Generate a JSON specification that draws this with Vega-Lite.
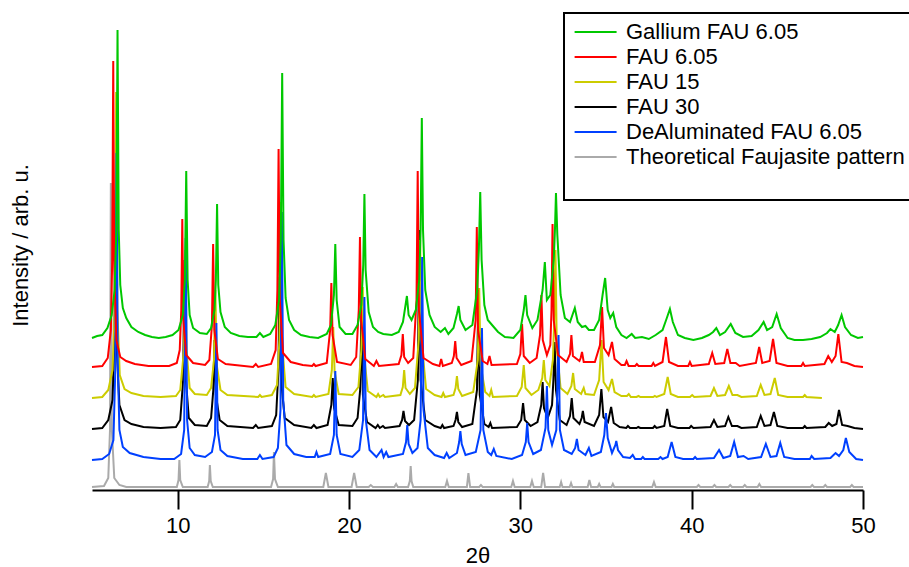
{
"$schema":"https://vega.github.io/schema/vega-lite/v6.json",
"width":771,"height":490,
"autosize":{"type":"none"},
"padding":{"left":92,"top":0,"right":46,"bottom":77},
"background":"white",
"config":{"view":{"stroke":null},"font":"Liberation Sans","legend":{"strokeWidth":2}},
"data":{"values":[
{"s":"a","x":5,"y":152},{"s":"a","x":5.3,"y":154},{"s":"a","x":5.6,"y":155},{"s":"a","x":5.9,"y":162},{"s":"a","x":6.15,"y":175},{"s":"a","x":6.32,"y":200},{"s":"a","x":6.42,"y":260},{"s":"a","x":6.49,"y":460},{"s":"a","x":6.56,"y":260},{"s":"a","x":6.65,"y":205},{"s":"a","x":6.8,"y":182},{"s":"a","x":7.0,"y":172},{"s":"a","x":7.3,"y":163},{"s":"a","x":7.7,"y":158},{"s":"a","x":8.1,"y":155},{"s":"a","x":8.5,"y":153},{"s":"a","x":8.9,"y":152},{"s":"a","x":9.3,"y":153},{"s":"a","x":9.7,"y":155},{"s":"a","x":10.05,"y":160},{"s":"a","x":10.3,"y":175},{"s":"a","x":10.42,"y":210},{"s":"a","x":10.5,"y":319},{"s":"a","x":10.58,"y":210},{"s":"a","x":10.7,"y":175},{"s":"a","x":10.9,"y":162},{"s":"a","x":11.3,"y":157},{"s":"a","x":11.7,"y":156},{"s":"a","x":11.95,"y":162},{"s":"a","x":12.15,"y":180},{"s":"a","x":12.23,"y":210},{"s":"a","x":12.3,"y":286},{"s":"a","x":12.37,"y":205},{"s":"a","x":12.5,"y":178},{"s":"a","x":12.75,"y":163},{"s":"a","x":13.1,"y":157},{"s":"a","x":13.6,"y":154},{"s":"a","x":14.1,"y":153},{"s":"a","x":14.6,"y":153},{"s":"a","x":14.8,"y":157},{"s":"a","x":15.0,"y":153},{"s":"a","x":15.4,"y":156},{"s":"a","x":15.7,"y":165},{"s":"a","x":15.92,"y":190},{"s":"a","x":16.02,"y":250},{"s":"a","x":16.1,"y":417},{"s":"a","x":16.18,"y":250},{"s":"a","x":16.3,"y":192},{"s":"a","x":16.5,"y":170},{"s":"a","x":16.8,"y":160},{"s":"a","x":17.2,"y":155},{"s":"a","x":17.7,"y":153},{"s":"a","x":18.2,"y":152},{"s":"a","x":18.7,"y":156},{"s":"a","x":18.95,"y":165},{"s":"a","x":19.12,"y":195},{"s":"a","x":19.2,"y":246},{"s":"a","x":19.28,"y":190},{"s":"a","x":19.45,"y":163},{"s":"a","x":19.8,"y":156},{"s":"a","x":20.2,"y":156},{"s":"a","x":20.5,"y":165},{"s":"a","x":20.72,"y":185},{"s":"a","x":20.83,"y":225},{"s":"a","x":20.9,"y":296},{"s":"a","x":20.97,"y":220},{"s":"a","x":21.15,"y":178},{"s":"a","x":21.4,"y":163},{"s":"a","x":21.7,"y":158},{"s":"a","x":22.0,"y":156},{"s":"a","x":22.5,"y":155},{"s":"a","x":22.9,"y":158},{"s":"a","x":23.15,"y":168},{"s":"a","x":23.3,"y":185},{"s":"a","x":23.38,"y":194},{"s":"a","x":23.48,"y":175},{"s":"a","x":23.65,"y":170},{"s":"a","x":23.9,"y":180},{"s":"a","x":24.1,"y":210},{"s":"a","x":24.18,"y":260},{"s":"a","x":24.25,"y":372},{"s":"a","x":24.32,"y":260},{"s":"a","x":24.45,"y":200},{"s":"a","x":24.7,"y":175},{"s":"a","x":25.0,"y":163},{"s":"a","x":25.35,"y":158},{"s":"a","x":25.6,"y":162},{"s":"a","x":25.8,"y":156},{"s":"a","x":26.1,"y":162},{"s":"a","x":26.3,"y":176},{"s":"a","x":26.4,"y":184},{"s":"a","x":26.5,"y":170},{"s":"a","x":26.8,"y":160},{"s":"a","x":27.2,"y":165},{"s":"a","x":27.48,"y":200},{"s":"a","x":27.58,"y":240},{"s":"a","x":27.66,"y":298},{"s":"a","x":27.74,"y":230},{"s":"a","x":27.9,"y":185},{"s":"a","x":28.1,"y":170},{"s":"a","x":28.4,"y":164},{"s":"a","x":28.7,"y":158},{"s":"a","x":29.1,"y":153},{"s":"a","x":29.6,"y":152},{"s":"a","x":30.0,"y":160},{"s":"a","x":30.2,"y":180},{"s":"a","x":30.3,"y":195},{"s":"a","x":30.4,"y":175},{"s":"a","x":30.7,"y":162},{"s":"a","x":31.0,"y":170},{"s":"a","x":31.3,"y":200},{"s":"a","x":31.43,"y":228},{"s":"a","x":31.55,"y":190},{"s":"a","x":31.75,"y":195},{"s":"a","x":31.95,"y":230},{"s":"a","x":32.02,"y":260},{"s":"a","x":32.08,"y":297},{"s":"a","x":32.16,"y":255},{"s":"a","x":32.35,"y":195},{"s":"a","x":32.6,"y":172},{"s":"a","x":32.9,"y":168},{"s":"a","x":33.18,"y":182},{"s":"a","x":33.35,"y":168},{"s":"a","x":33.6,"y":163},{"s":"a","x":33.8,"y":164},{"s":"a","x":34.0,"y":160},{"s":"a","x":34.3,"y":160},{"s":"a","x":34.6,"y":170},{"s":"a","x":34.8,"y":195},{"s":"a","x":34.95,"y":212},{"s":"a","x":35.1,"y":180},{"s":"a","x":35.25,"y":172},{"s":"a","x":35.42,"y":177},{"s":"a","x":35.6,"y":163},{"s":"a","x":35.9,"y":155},{"s":"a","x":36.2,"y":152},{"s":"a","x":36.5,"y":156},{"s":"a","x":36.7,"y":152},{"s":"a","x":37.1,"y":153},{"s":"a","x":37.5,"y":151},{"s":"a","x":37.9,"y":155},{"s":"a","x":38.3,"y":160},{"s":"a","x":38.55,"y":172},{"s":"a","x":38.73,"y":181},{"s":"a","x":38.9,"y":168},{"s":"a","x":39.2,"y":155},{"s":"a","x":39.6,"y":152},{"s":"a","x":40.1,"y":150},{"s":"a","x":40.6,"y":152},{"s":"a","x":41.0,"y":155},{"s":"a","x":41.25,"y":158},{"s":"a","x":41.44,"y":162},{"s":"a","x":41.65,"y":155},{"s":"a","x":41.95,"y":158},{"s":"a","x":42.28,"y":166},{"s":"a","x":42.55,"y":157},{"s":"a","x":43.0,"y":153},{"s":"a","x":43.5,"y":154},{"s":"a","x":43.9,"y":160},{"s":"a","x":44.2,"y":168},{"s":"a","x":44.4,"y":160},{"s":"a","x":44.7,"y":163},{"s":"a","x":44.96,"y":176},{"s":"a","x":45.2,"y":162},{"s":"a","x":45.6,"y":152},{"s":"a","x":46.0,"y":150},{"s":"a","x":46.5,"y":150},{"s":"a","x":47.0,"y":151},{"s":"a","x":47.5,"y":153},{"s":"a","x":47.9,"y":157},{"s":"a","x":48.1,"y":161},{"s":"a","x":48.35,"y":158},{"s":"a","x":48.55,"y":165},{"s":"a","x":48.75,"y":175},{"s":"a","x":48.95,"y":163},{"s":"a","x":49.3,"y":155},{"s":"a","x":49.7,"y":152},{"s":"a","x":50,"y":153},
{"s":"b","x":5,"y":123},{"s":"b","x":5.6,"y":124},{"s":"b","x":5.92,"y":132},{"s":"b","x":6.1,"y":160},{"s":"b","x":6.18,"y":230},{"s":"b","x":6.24,"y":429},{"s":"b","x":6.3,"y":220},{"s":"b","x":6.42,"y":150},{"s":"b","x":6.65,"y":133},{"s":"b","x":7.0,"y":129},{"s":"b","x":7.5,"y":126},{"s":"b","x":8.3,"y":124},{"s":"b","x":9.5,"y":124},{"s":"b","x":9.95,"y":127},{"s":"b","x":10.12,"y":140},{"s":"b","x":10.21,"y":180},{"s":"b","x":10.27,"y":271},{"s":"b","x":10.33,"y":170},{"s":"b","x":10.5,"y":135},{"s":"b","x":10.9,"y":127},{"s":"b","x":11.6,"y":125},{"s":"b","x":11.85,"y":130},{"s":"b","x":12.0,"y":165},{"s":"b","x":12.07,"y":246},{"s":"b","x":12.14,"y":160},{"s":"b","x":12.35,"y":131},{"s":"b","x":12.8,"y":126},{"s":"b","x":14.4,"y":123},{"s":"b","x":14.56,"y":126},{"s":"b","x":14.7,"y":123},{"s":"b","x":15.45,"y":126},{"s":"b","x":15.72,"y":140},{"s":"b","x":15.82,"y":200},{"s":"b","x":15.89,"y":341},{"s":"b","x":15.96,"y":190},{"s":"b","x":16.15,"y":137},{"s":"b","x":16.6,"y":128},{"s":"b","x":17.3,"y":125},{"s":"b","x":17.85,"y":124},{"s":"b","x":17.95,"y":126},{"s":"b","x":18.05,"y":124},{"s":"b","x":18.7,"y":127},{"s":"b","x":18.9,"y":160},{"s":"b","x":18.97,"y":207},{"s":"b","x":19.04,"y":155},{"s":"b","x":19.3,"y":128},{"s":"b","x":20.1,"y":125},{"s":"b","x":20.42,"y":133},{"s":"b","x":20.57,"y":180},{"s":"b","x":20.64,"y":253},{"s":"b","x":20.71,"y":170},{"s":"b","x":20.95,"y":131},{"s":"b","x":21.45,"y":124},{"s":"b","x":21.6,"y":129},{"s":"b","x":21.75,"y":124},{"s":"b","x":22.9,"y":126},{"s":"b","x":23.06,"y":135},{"s":"b","x":23.14,"y":156},{"s":"b","x":23.22,"y":133},{"s":"b","x":23.45,"y":127},{"s":"b","x":23.75,"y":132},{"s":"b","x":23.94,"y":190},{"s":"b","x":24.01,"y":319},{"s":"b","x":24.08,"y":180},{"s":"b","x":24.35,"y":132},{"s":"b","x":24.9,"y":126},{"s":"b","x":25.28,"y":124},{"s":"b","x":25.38,"y":131},{"s":"b","x":25.48,"y":124},{"s":"b","x":26.0,"y":127},{"s":"b","x":26.12,"y":134},{"s":"b","x":26.2,"y":149},{"s":"b","x":26.28,"y":132},{"s":"b","x":26.55,"y":125},{"s":"b","x":27.15,"y":129},{"s":"b","x":27.39,"y":170},{"s":"b","x":27.46,"y":263},{"s":"b","x":27.53,"y":160},{"s":"b","x":27.8,"y":129},{"s":"b","x":28.08,"y":126},{"s":"b","x":28.2,"y":134},{"s":"b","x":28.32,"y":125},{"s":"b","x":29.8,"y":126},{"s":"b","x":30.0,"y":136},{"s":"b","x":30.1,"y":166},{"s":"b","x":30.2,"y":134},{"s":"b","x":30.55,"y":127},{"s":"b","x":30.95,"y":132},{"s":"b","x":31.15,"y":155},{"s":"b","x":31.23,"y":195},{"s":"b","x":31.31,"y":150},{"s":"b","x":31.55,"y":135},{"s":"b","x":31.75,"y":145},{"s":"b","x":31.82,"y":180},{"s":"b","x":31.88,"y":266},{"s":"b","x":31.95,"y":170},{"s":"b","x":32.2,"y":135},{"s":"b","x":32.7,"y":128},{"s":"b","x":32.9,"y":136},{"s":"b","x":32.98,"y":155},{"s":"b","x":33.07,"y":134},{"s":"b","x":33.45,"y":129},{"s":"b","x":33.52,"y":132},{"s":"b","x":33.6,"y":138},{"s":"b","x":33.7,"y":128},{"s":"b","x":34.35,"y":128},{"s":"b","x":34.65,"y":145},{"s":"b","x":34.77,"y":183},{"s":"b","x":34.88,"y":142},{"s":"b","x":35.15,"y":135},{"s":"b","x":35.35,"y":148},{"s":"b","x":35.5,"y":131},{"s":"b","x":35.9,"y":125},{"s":"b","x":36.1,"y":125},{"s":"b","x":36.2,"y":129},{"s":"b","x":36.32,"y":124},{"s":"b","x":36.7,"y":124},{"s":"b","x":36.8,"y":126},{"s":"b","x":36.9,"y":124},{"s":"b","x":37.66,"y":124},{"s":"b","x":37.76,"y":127},{"s":"b","x":37.86,"y":124},{"s":"b","x":38.3,"y":128},{"s":"b","x":38.5,"y":153},{"s":"b","x":38.68,"y":128},{"s":"b","x":39.2,"y":124},{"s":"b","x":39.8,"y":124},{"s":"b","x":39.9,"y":128},{"s":"b","x":40.0,"y":124},{"s":"b","x":41.0,"y":126},{"s":"b","x":41.2,"y":137},{"s":"b","x":41.38,"y":126},{"s":"b","x":41.9,"y":127},{"s":"b","x":42.08,"y":141},{"s":"b","x":42.26,"y":127},{"s":"b","x":42.57,"y":127},{"s":"b","x":42.8,"y":124},{"s":"b","x":43.75,"y":127},{"s":"b","x":43.94,"y":143},{"s":"b","x":44.12,"y":127},{"s":"b","x":44.55,"y":129},{"s":"b","x":44.75,"y":151},{"s":"b","x":44.95,"y":127},{"s":"b","x":45.6,"y":124},{"s":"b","x":46.4,"y":124},{"s":"b","x":46.5,"y":127},{"s":"b","x":46.6,"y":124},{"s":"b","x":47.75,"y":126},{"s":"b","x":47.97,"y":134},{"s":"b","x":48.18,"y":128},{"s":"b","x":48.4,"y":134},{"s":"b","x":48.56,"y":156},{"s":"b","x":48.75,"y":128},{"s":"b","x":49.06,"y":127},{"s":"b","x":49.5,"y":124},{"s":"b","x":50,"y":123},
{"s":"c","x":5,"y":92},{"s":"c","x":5.6,"y":93},{"s":"c","x":5.95,"y":100},{"s":"c","x":6.2,"y":120},{"s":"c","x":6.33,"y":180},{"s":"c","x":6.41,"y":398},{"s":"c","x":6.48,"y":180},{"s":"c","x":6.62,"y":115},{"s":"c","x":6.9,"y":101},{"s":"c","x":7.3,"y":97},{"s":"c","x":8.0,"y":94},{"s":"c","x":9.0,"y":93},{"s":"c","x":9.9,"y":94},{"s":"c","x":10.15,"y":100},{"s":"c","x":10.37,"y":140},{"s":"c","x":10.45,"y":240},{"s":"c","x":10.52,"y":140},{"s":"c","x":10.7,"y":102},{"s":"c","x":11.0,"y":96},{"s":"c","x":11.7,"y":95},{"s":"c","x":11.95,"y":102},{"s":"c","x":12.12,"y":130},{"s":"c","x":12.2,"y":200},{"s":"c","x":12.28,"y":125},{"s":"c","x":12.5,"y":100},{"s":"c","x":12.9,"y":95},{"s":"c","x":14.7,"y":93},{"s":"c","x":14.8,"y":95},{"s":"c","x":14.9,"y":93},{"s":"c","x":15.5,"y":95},{"s":"c","x":15.8,"y":105},{"s":"c","x":15.94,"y":150},{"s":"c","x":16.02,"y":288},{"s":"c","x":16.1,"y":145},{"s":"c","x":16.3,"y":103},{"s":"c","x":16.8,"y":96},{"s":"c","x":17.85,"y":93},{"s":"c","x":17.95,"y":95},{"s":"c","x":18.05,"y":93},{"s":"c","x":18.8,"y":96},{"s":"c","x":19.0,"y":120},{"s":"c","x":19.08,"y":163},{"s":"c","x":19.16,"y":118},{"s":"c","x":19.4,"y":96},{"s":"c","x":20.2,"y":95},{"s":"c","x":20.55,"y":103},{"s":"c","x":20.72,"y":140},{"s":"c","x":20.8,"y":203},{"s":"c","x":20.88,"y":135},{"s":"c","x":21.1,"y":99},{"s":"c","x":21.6,"y":93},{"s":"c","x":21.7,"y":96},{"s":"c","x":21.8,"y":93},{"s":"c","x":22.0,"y":95},{"s":"c","x":22.1,"y":93},{"s":"c","x":23.0,"y":95},{"s":"c","x":23.14,"y":103},{"s":"c","x":23.22,"y":120},{"s":"c","x":23.3,"y":102},{"s":"c","x":23.55,"y":96},{"s":"c","x":23.85,"y":102},{"s":"c","x":24.07,"y":150},{"s":"c","x":24.15,"y":250},{"s":"c","x":24.23,"y":150},{"s":"c","x":24.5,"y":101},{"s":"c","x":25.0,"y":95},{"s":"c","x":25.4,"y":93},{"s":"c","x":25.5,"y":97},{"s":"c","x":25.6,"y":93},{"s":"c","x":26.1,"y":95},{"s":"c","x":26.22,"y":102},{"s":"c","x":26.3,"y":114},{"s":"c","x":26.38,"y":101},{"s":"c","x":26.6,"y":94},{"s":"c","x":27.25,"y":98},{"s":"c","x":27.52,"y":130},{"s":"c","x":27.6,"y":202},{"s":"c","x":27.68,"y":125},{"s":"c","x":27.95,"y":98},{"s":"c","x":28.2,"y":94},{"s":"c","x":28.3,"y":100},{"s":"c","x":28.4,"y":93},{"s":"c","x":29.8,"y":94},{"s":"c","x":30.08,"y":103},{"s":"c","x":30.2,"y":125},{"s":"c","x":30.3,"y":102},{"s":"c","x":30.65,"y":95},{"s":"c","x":31.05,"y":100},{"s":"c","x":31.28,"y":112},{"s":"c","x":31.37,"y":130},{"s":"c","x":31.46,"y":110},{"s":"c","x":31.7,"y":104},{"s":"c","x":31.9,"y":130},{"s":"c","x":31.98,"y":170},{"s":"c","x":32.05,"y":240},{"s":"c","x":32.13,"y":140},{"s":"c","x":32.35,"y":102},{"s":"c","x":32.75,"y":96},{"s":"c","x":32.98,"y":104},{"s":"c","x":33.08,"y":117},{"s":"c","x":33.18,"y":101},{"s":"c","x":33.55,"y":96},{"s":"c","x":33.62,"y":99},{"s":"c","x":33.7,"y":102},{"s":"c","x":33.8,"y":96},{"s":"c","x":34.3,"y":95},{"s":"c","x":34.6,"y":110},{"s":"c","x":34.74,"y":150},{"s":"c","x":34.86,"y":108},{"s":"c","x":35.15,"y":100},{"s":"c","x":35.35,"y":111},{"s":"c","x":35.5,"y":98},{"s":"c","x":35.9,"y":94},{"s":"c","x":36.22,"y":94},{"s":"c","x":36.33,"y":96},{"s":"c","x":36.45,"y":93},{"s":"c","x":36.78,"y":93},{"s":"c","x":36.9,"y":94},{"s":"c","x":37.0,"y":93},{"s":"c","x":37.75,"y":93},{"s":"c","x":37.85,"y":94},{"s":"c","x":37.95,"y":93},{"s":"c","x":38.4,"y":96},{"s":"c","x":38.6,"y":113},{"s":"c","x":38.78,"y":96},{"s":"c","x":39.2,"y":93},{"s":"c","x":39.9,"y":93},{"s":"c","x":40.03,"y":95},{"s":"c","x":40.15,"y":93},{"s":"c","x":41.1,"y":94},{"s":"c","x":41.3,"y":102},{"s":"c","x":41.5,"y":94},{"s":"c","x":41.95,"y":95},{"s":"c","x":42.17,"y":104},{"s":"c","x":42.38,"y":95},{"s":"c","x":42.67,"y":95},{"s":"c","x":42.9,"y":93},{"s":"c","x":43.8,"y":94},{"s":"c","x":44.03,"y":105},{"s":"c","x":44.25,"y":95},{"s":"c","x":44.6,"y":96},{"s":"c","x":44.85,"y":112},{"s":"c","x":45.05,"y":95},{"s":"c","x":45.6,"y":93},{"s":"c","x":46.5,"y":93},{"s":"c","x":46.6,"y":95},{"s":"c","x":46.7,"y":93},{"s":"c","x":47.6,"y":92},
{"s":"d","x":5,"y":61},{"s":"d","x":5.6,"y":62},{"s":"d","x":5.95,"y":70},{"s":"d","x":6.2,"y":90},{"s":"d","x":6.31,"y":150},{"s":"d","x":6.38,"y":300},{"s":"d","x":6.45,"y":140},{"s":"d","x":6.6,"y":85},{"s":"d","x":6.9,"y":70},{"s":"d","x":7.3,"y":66},{"s":"d","x":8.0,"y":63},{"s":"d","x":9.0,"y":62},{"s":"d","x":9.9,"y":63},{"s":"d","x":10.15,"y":70},{"s":"d","x":10.32,"y":110},{"s":"d","x":10.4,"y":230},{"s":"d","x":10.48,"y":110},{"s":"d","x":10.65,"y":72},{"s":"d","x":11.0,"y":65},{"s":"d","x":11.7,"y":64},{"s":"d","x":11.95,"y":72},{"s":"d","x":12.08,"y":100},{"s":"d","x":12.15,"y":150},{"s":"d","x":12.23,"y":95},{"s":"d","x":12.45,"y":70},{"s":"d","x":12.9,"y":64},{"s":"d","x":14.4,"y":62},{"s":"d","x":14.56,"y":65},{"s":"d","x":14.7,"y":62},{"s":"d","x":15.5,"y":64},{"s":"d","x":15.75,"y":75},{"s":"d","x":15.88,"y":120},{"s":"d","x":15.95,"y":213},{"s":"d","x":16.03,"y":110},{"s":"d","x":16.25,"y":72},{"s":"d","x":16.8,"y":65},{"s":"d","x":17.8,"y":62},{"s":"d","x":17.95,"y":65},{"s":"d","x":18.1,"y":62},{"s":"d","x":18.75,"y":65},{"s":"d","x":18.97,"y":85},{"s":"d","x":19.05,"y":112},{"s":"d","x":19.13,"y":82},{"s":"d","x":19.4,"y":65},{"s":"d","x":20.2,"y":64},{"s":"d","x":20.5,"y":72},{"s":"d","x":20.65,"y":100},{"s":"d","x":20.73,"y":180},{"s":"d","x":20.81,"y":95},{"s":"d","x":21.05,"y":68},{"s":"d","x":21.55,"y":62},{"s":"d","x":21.68,"y":65},{"s":"d","x":21.8,"y":62},{"s":"d","x":21.98,"y":64},{"s":"d","x":22.1,"y":62},{"s":"d","x":22.95,"y":64},{"s":"d","x":23.1,"y":70},{"s":"d","x":23.18,"y":79},{"s":"d","x":23.27,"y":69},{"s":"d","x":23.5,"y":65},{"s":"d","x":23.8,"y":70},{"s":"d","x":24.02,"y":110},{"s":"d","x":24.1,"y":260},{"s":"d","x":24.18,"y":110},{"s":"d","x":24.45,"y":70},{"s":"d","x":25.0,"y":64},{"s":"d","x":25.35,"y":62},{"s":"d","x":25.45,"y":65},{"s":"d","x":25.55,"y":62},{"s":"d","x":26.1,"y":64},{"s":"d","x":26.22,"y":70},{"s":"d","x":26.3,"y":78},{"s":"d","x":26.38,"y":68},{"s":"d","x":26.6,"y":63},{"s":"d","x":27.2,"y":66},{"s":"d","x":27.47,"y":100},{"s":"d","x":27.55,"y":200},{"s":"d","x":27.63,"y":95},{"s":"d","x":27.9,"y":66},{"s":"d","x":28.15,"y":63},{"s":"d","x":28.25,"y":67},{"s":"d","x":28.35,"y":62},{"s":"d","x":29.8,"y":63},{"s":"d","x":30.05,"y":70},{"s":"d","x":30.16,"y":87},{"s":"d","x":30.26,"y":70},{"s":"d","x":30.6,"y":64},{"s":"d","x":31.0,"y":68},{"s":"d","x":31.22,"y":85},{"s":"d","x":31.3,"y":108},{"s":"d","x":31.38,"y":82},{"s":"d","x":31.6,"y":72},{"s":"d","x":31.85,"y":85},{"s":"d","x":31.93,"y":110},{"s":"d","x":32.0,"y":148},{"s":"d","x":32.08,"y":100},{"s":"d","x":32.3,"y":70},{"s":"d","x":32.7,"y":65},{"s":"d","x":32.9,"y":74},{"s":"d","x":33.0,"y":92},{"s":"d","x":33.1,"y":72},{"s":"d","x":33.45,"y":66},{"s":"d","x":33.58,"y":72},{"s":"d","x":33.65,"y":79},{"s":"d","x":33.75,"y":68},{"s":"d","x":34.3,"y":64},{"s":"d","x":34.6,"y":75},{"s":"d","x":34.73,"y":101},{"s":"d","x":34.85,"y":73},{"s":"d","x":35.12,"y":68},{"s":"d","x":35.3,"y":83},{"s":"d","x":35.45,"y":67},{"s":"d","x":35.8,"y":63},{"s":"d","x":36.18,"y":62},{"s":"d","x":36.28,"y":64},{"s":"d","x":36.4,"y":62},{"s":"d","x":36.78,"y":62},{"s":"d","x":36.88,"y":63},{"s":"d","x":37.0,"y":62},{"s":"d","x":37.74,"y":62},{"s":"d","x":37.84,"y":64},{"s":"d","x":37.95,"y":62},{"s":"d","x":38.4,"y":64},{"s":"d","x":38.57,"y":81},{"s":"d","x":38.75,"y":64},{"s":"d","x":39.2,"y":62},{"s":"d","x":39.87,"y":62},{"s":"d","x":39.97,"y":64},{"s":"d","x":40.1,"y":62},{"s":"d","x":41.1,"y":63},{"s":"d","x":41.3,"y":70},{"s":"d","x":41.5,"y":63},{"s":"d","x":41.95,"y":64},{"s":"d","x":42.14,"y":73},{"s":"d","x":42.35,"y":64},{"s":"d","x":42.67,"y":64},{"s":"d","x":42.9,"y":62},{"s":"d","x":43.8,"y":63},{"s":"d","x":44.03,"y":74},{"s":"d","x":44.25,"y":64},{"s":"d","x":44.6,"y":65},{"s":"d","x":44.8,"y":78},{"s":"d","x":45.0,"y":64},{"s":"d","x":45.6,"y":62},{"s":"d","x":46.5,"y":62},{"s":"d","x":46.6,"y":64},{"s":"d","x":46.7,"y":62},{"s":"d","x":47.8,"y":63},{"s":"d","x":48.0,"y":67},{"s":"d","x":48.2,"y":64},{"s":"d","x":48.45,"y":66},{"s":"d","x":48.6,"y":80},{"s":"d","x":48.78,"y":65},{"s":"d","x":49.1,"y":64},{"s":"d","x":49.5,"y":62},{"s":"d","x":50,"y":61},
{"s":"e","x":5,"y":30},{"s":"e","x":5.6,"y":31},{"s":"e","x":6.0,"y":36},{"s":"e","x":6.25,"y":50},{"s":"e","x":6.36,"y":120},{"s":"e","x":6.43,"y":337},{"s":"e","x":6.5,"y":130},{"s":"e","x":6.6,"y":60},{"s":"e","x":6.8,"y":43},{"s":"e","x":7.2,"y":37},{"s":"e","x":8.0,"y":33},{"s":"e","x":9.0,"y":31},{"s":"e","x":9.8,"y":31},{"s":"e","x":10.2,"y":36},{"s":"e","x":10.38,"y":60},{"s":"e","x":10.47,"y":252},{"s":"e","x":10.55,"y":70},{"s":"e","x":10.7,"y":42},{"s":"e","x":11.0,"y":35},{"s":"e","x":11.6,"y":33},{"s":"e","x":12.0,"y":38},{"s":"e","x":12.18,"y":55},{"s":"e","x":12.26,"y":167},{"s":"e","x":12.33,"y":60},{"s":"e","x":12.5,"y":40},{"s":"e","x":12.9,"y":34},{"s":"e","x":13.8,"y":31},{"s":"e","x":14.65,"y":31},{"s":"e","x":14.8,"y":35},{"s":"e","x":14.95,"y":31},{"s":"e","x":15.6,"y":33},{"s":"e","x":15.85,"y":42},{"s":"e","x":16.0,"y":80},{"s":"e","x":16.08,"y":278},{"s":"e","x":16.16,"y":90},{"s":"e","x":16.35,"y":45},{"s":"e","x":16.8,"y":36},{"s":"e","x":17.5,"y":33},{"s":"e","x":18.0,"y":33},{"s":"e","x":18.1,"y":38},{"s":"e","x":18.2,"y":33},{"s":"e","x":18.9,"y":36},{"s":"e","x":19.12,"y":55},{"s":"e","x":19.2,"y":119},{"s":"e","x":19.28,"y":55},{"s":"e","x":19.5,"y":36},{"s":"e","x":20.2,"y":33},{"s":"e","x":20.6,"y":40},{"s":"e","x":20.82,"y":70},{"s":"e","x":20.9,"y":193},{"s":"e","x":20.98,"y":70},{"s":"e","x":21.2,"y":40},{"s":"e","x":21.6,"y":33},{"s":"e","x":21.9,"y":40},{"s":"e","x":22.02,"y":33},{"s":"e","x":22.17,"y":38},{"s":"e","x":22.3,"y":33},{"s":"e","x":23.15,"y":36},{"s":"e","x":23.33,"y":48},{"s":"e","x":23.4,"y":65},{"s":"e","x":23.48,"y":46},{"s":"e","x":23.7,"y":37},{"s":"e","x":24.0,"y":42},{"s":"e","x":24.18,"y":70},{"s":"e","x":24.27,"y":233},{"s":"e","x":24.35,"y":80},{"s":"e","x":24.6,"y":42},{"s":"e","x":25.0,"y":35},{"s":"e","x":25.55,"y":32},{"s":"e","x":25.7,"y":37},{"s":"e","x":25.85,"y":32},{"s":"e","x":26.3,"y":37},{"s":"e","x":26.43,"y":48},{"s":"e","x":26.5,"y":59},{"s":"e","x":26.58,"y":46},{"s":"e","x":26.8,"y":35},{"s":"e","x":27.4,"y":38},{"s":"e","x":27.68,"y":60},{"s":"e","x":27.76,"y":162},{"s":"e","x":27.84,"y":60},{"s":"e","x":28.1,"y":38},{"s":"e","x":28.3,"y":35},{"s":"e","x":28.45,"y":41},{"s":"e","x":28.6,"y":34},{"s":"e","x":29.5,"y":31},{"s":"e","x":30.1,"y":35},{"s":"e","x":30.32,"y":48},{"s":"e","x":30.4,"y":67},{"s":"e","x":30.48,"y":48},{"s":"e","x":30.75,"y":36},{"s":"e","x":31.2,"y":40},{"s":"e","x":31.47,"y":62},{"s":"e","x":31.55,"y":104},{"s":"e","x":31.63,"y":60},{"s":"e","x":31.85,"y":45},{"s":"e","x":32.1,"y":60},{"s":"e","x":32.23,"y":155},{"s":"e","x":32.31,"y":60},{"s":"e","x":32.55,"y":40},{"s":"e","x":33.0,"y":36},{"s":"e","x":33.2,"y":42},{"s":"e","x":33.3,"y":51},{"s":"e","x":33.4,"y":40},{"s":"e","x":33.8,"y":35},{"s":"e","x":34.0,"y":42},{"s":"e","x":34.15,"y":34},{"s":"e","x":34.7,"y":38},{"s":"e","x":34.9,"y":55},{"s":"e","x":35.0,"y":77},{"s":"e","x":35.1,"y":52},{"s":"e","x":35.35,"y":37},{"s":"e","x":35.55,"y":45},{"s":"e","x":35.6,"y":49},{"s":"e","x":35.7,"y":40},{"s":"e","x":36.0,"y":33},{"s":"e","x":36.4,"y":32},{"s":"e","x":36.56,"y":35},{"s":"e","x":36.7,"y":31},{"s":"e","x":37.05,"y":31},{"s":"e","x":37.15,"y":33},{"s":"e","x":37.25,"y":31},{"s":"e","x":38.05,"y":31},{"s":"e","x":38.18,"y":33},{"s":"e","x":38.3,"y":31},{"s":"e","x":38.6,"y":33},{"s":"e","x":38.83,"y":48},{"s":"e","x":39.05,"y":33},{"s":"e","x":39.5,"y":31},{"s":"e","x":40.1,"y":31},{"s":"e","x":40.2,"y":33},{"s":"e","x":40.3,"y":31},{"s":"e","x":41.3,"y":32},{"s":"e","x":41.6,"y":40},{"s":"e","x":41.85,"y":32},{"s":"e","x":42.25,"y":34},{"s":"e","x":42.48,"y":48},{"s":"e","x":42.7,"y":33},{"s":"e","x":43.03,"y":34},{"s":"e","x":43.3,"y":31},{"s":"e","x":44.05,"y":33},{"s":"e","x":44.33,"y":46},{"s":"e","x":44.6,"y":33},{"s":"e","x":44.95,"y":34},{"s":"e","x":45.17,"y":47},{"s":"e","x":45.4,"y":33},{"s":"e","x":46.0,"y":31},{"s":"e","x":46.9,"y":31},{"s":"e","x":47.0,"y":34},{"s":"e","x":47.15,"y":31},{"s":"e","x":48.1,"y":32},{"s":"e","x":48.4,"y":37},{"s":"e","x":48.6,"y":34},{"s":"e","x":48.85,"y":40},{"s":"e","x":49.0,"y":52},{"s":"e","x":49.2,"y":38},{"s":"e","x":49.6,"y":31},{"s":"e","x":50,"y":30},
{"s":"f","x":5,"y":3},{"s":"f","x":5.7,"y":4},{"s":"f","x":5.95,"y":12},{"s":"f","x":6.05,"y":60},{"s":"f","x":6.1,"y":307},{"s":"f","x":6.16,"y":60},{"s":"f","x":6.3,"y":12},{"s":"f","x":6.6,"y":5},{"s":"f","x":7.0,"y":3},{"s":"f","x":9.95,"y":3},{"s":"f","x":10.05,"y":10},{"s":"f","x":10.1,"y":30},{"s":"f","x":10.15,"y":10},{"s":"f","x":10.3,"y":3},{"s":"f","x":11.75,"y":3},{"s":"f","x":11.84,"y":9},{"s":"f","x":11.88,"y":25},{"s":"f","x":11.93,"y":9},{"s":"f","x":12.05,"y":3},{"s":"f","x":15.45,"y":3},{"s":"f","x":15.57,"y":11},{"s":"f","x":15.62,"y":38},{"s":"f","x":15.68,"y":11},{"s":"f","x":15.85,"y":3},{"s":"f","x":18.5,"y":3},{"s":"f","x":18.65,"y":17},{"s":"f","x":18.8,"y":3},{"s":"f","x":20.15,"y":3},{"s":"f","x":20.3,"y":17},{"s":"f","x":20.45,"y":3},{"s":"f","x":21.15,"y":3},{"s":"f","x":21.27,"y":5},{"s":"f","x":21.4,"y":3},{"s":"f","x":22.65,"y":3},{"s":"f","x":22.75,"y":6},{"s":"f","x":22.85,"y":3},{"s":"f","x":23.45,"y":3},{"s":"f","x":23.55,"y":9},{"s":"f","x":23.6,"y":24},{"s":"f","x":23.65,"y":9},{"s":"f","x":23.75,"y":3},{"s":"f","x":25.62,"y":3},{"s":"f","x":25.72,"y":9},{"s":"f","x":25.82,"y":3},{"s":"f","x":26.88,"y":3},{"s":"f","x":26.97,"y":17},{"s":"f","x":27.07,"y":3},{"s":"f","x":27.6,"y":3},{"s":"f","x":27.7,"y":5},{"s":"f","x":27.8,"y":3},{"s":"f","x":29.47,"y":3},{"s":"f","x":29.57,"y":9},{"s":"f","x":29.67,"y":3},{"s":"f","x":30.58,"y":3},{"s":"f","x":30.68,"y":9},{"s":"f","x":30.78,"y":3},{"s":"f","x":31.22,"y":3},{"s":"f","x":31.33,"y":17},{"s":"f","x":31.44,"y":3},{"s":"f","x":32.3,"y":3},{"s":"f","x":32.38,"y":8},{"s":"f","x":32.46,"y":3},{"s":"f","x":32.88,"y":3},{"s":"f","x":32.96,"y":7},{"s":"f","x":33.04,"y":3},{"s":"f","x":33.93,"y":3},{"s":"f","x":34.03,"y":10},{"s":"f","x":34.13,"y":3},{"s":"f","x":34.52,"y":3},{"s":"f","x":34.6,"y":6},{"s":"f","x":34.68,"y":3},{"s":"f","x":35.32,"y":3},{"s":"f","x":35.4,"y":6},{"s":"f","x":35.48,"y":3},{"s":"f","x":37.7,"y":3},{"s":"f","x":37.8,"y":8},{"s":"f","x":37.9,"y":3},{"s":"f","x":40.3,"y":3},{"s":"f","x":40.4,"y":5},{"s":"f","x":40.5,"y":3},{"s":"f","x":41.23,"y":3},{"s":"f","x":41.33,"y":5},{"s":"f","x":41.43,"y":3},{"s":"f","x":42.15,"y":3},{"s":"f","x":42.25,"y":5},{"s":"f","x":42.35,"y":3},{"s":"f","x":43.0,"y":3},{"s":"f","x":43.1,"y":5},{"s":"f","x":43.2,"y":3},{"s":"f","x":43.85,"y":3},{"s":"f","x":43.95,"y":6},{"s":"f","x":44.05,"y":3},{"s":"f","x":46.94,"y":3},{"s":"f","x":47.04,"y":5},{"s":"f","x":47.14,"y":3},{"s":"f","x":47.7,"y":3},{"s":"f","x":47.8,"y":5},{"s":"f","x":47.9,"y":3},{"s":"f","x":49.25,"y":3},{"s":"f","x":49.35,"y":5},{"s":"f","x":49.45,"y":3},{"s":"f","x":50,"y":3}
]},
"encoding":{
"x":{"field":"x","type":"quantitative","scale":{"domain":[5,50],"nice":false,"zero":false},
 "axis":{"title":"2θ","values":[10,20,30,40,50],"grid":false,"domainColor":"black","domainWidth":2,"tickColor":"black","tickWidth":2,"tickSize":19,"labelFontSize":22,"labelColor":"black","labelPadding":6,"labelFlush":false,"labelFont":"Liberation Sans","titleFont":"Liberation Sans","titleFontSize":22,"titleFontWeight":"normal","titleColor":"black","titlePadding":9}},
"y":{"field":"y","type":"quantitative","scale":{"domain":[0,490],"nice":false,"zero":false},
 "axis":{"title":"Intensity / arb. u.","domain":false,"ticks":false,"labels":false,"grid":false,"titleFont":"Liberation Sans","titleFontSize":22,"titleFontWeight":"normal","titleColor":"black","titlePadding":60}},
"color":{"field":"s","type":"nominal",
 "scale":{"domain":["a","b","c","d","e","f"],"range":["#00c800","#ff0000","#cccc00","#000000","#0040ff","#aaaaaa"]},
 "legend":{"orient":"none","legendX":472,"legendY":13,"title":" ","titleOrient":"bottom","titleFontSize":14,"titlePadding":10,"symbolType":"M-1,0H4","symbolSize":282,"symbolStrokeWidth":2,"labelFont":"Liberation Sans","labelFontSize":22,"labelColor":"black","labelOffset":32,"labelLimit":400,"rowPadding":3,"padding":8,"strokeColor":"black",
 "labelExpr":"datum.label=='a'?'Gallium FAU 6.05':datum.label=='b'?'FAU 6.05':datum.label=='c'?'FAU 15':datum.label=='d'?'FAU 30':datum.label=='e'?'DeAluminated FAU 6.05':'Theoretical Faujasite pattern'"}}
},
"layer":[
{"transform":[{"filter":"datum.s=='f'"}],"mark":{"type":"line","strokeWidth":2}},
{"transform":[{"filter":"datum.s=='d'"}],"mark":{"type":"line","strokeWidth":2}},
{"transform":[{"filter":"datum.s=='c'"}],"mark":{"type":"line","strokeWidth":2}},
{"transform":[{"filter":"datum.s=='e'"}],"mark":{"type":"line","strokeWidth":2}},
{"transform":[{"filter":"datum.s=='b'"}],"mark":{"type":"line","strokeWidth":2}},
{"transform":[{"filter":"datum.s=='a'"}],"mark":{"type":"line","strokeWidth":2}}
]
}
